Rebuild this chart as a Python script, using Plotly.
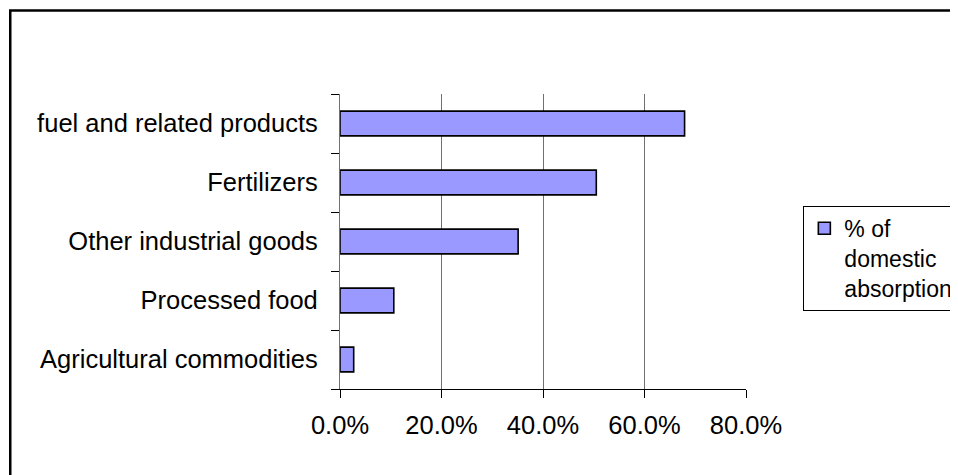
import plotly.graph_objects as go

categories = ["Agricultural commodities", "Processed food", "Other industrial goods",
              "Fertilizers", "fuel and related products"]
values = [0.027, 0.106, 0.351, 0.505, 0.679]
series_name = "% of<br>domestic<br>absorption"
x_ticks = [0, 0.2, 0.4, 0.6, 0.8]

OFF = 8  # default page body margin
W, H = 958 - OFF, 475 - OFF
L, R, T, B = 340 - OFF, 745.7 - OFF, 94.3 - OFF, 389.0 - OFF
pw, ph = R - L, B - T

def px(x):
    return (x - OFF - L) / pw

def py(y):
    return (B - (y - OFF)) / ph

fig = go.Figure()
fig.add_trace(go.Bar(
    y=categories, x=values, orientation="h", name=series_name,
    width=0.42,
    marker=dict(color="#9999FF", line=dict(color="black", width=1.6)),
    showlegend=True,
))

font = "Liberation Sans, Arial, sans-serif"
fig.update_layout(
    width=W, height=H,
    margin=dict(l=L, r=W - R, t=T, b=H - B, autoexpand=False),
    paper_bgcolor="white", plot_bgcolor="white",
    font=dict(family=font, size=25.5, color="black"),
    xaxis=dict(
        range=[0, 0.8], tickvals=x_ticks, tickformat=".1%",
        showgrid=True, gridcolor="#707070", gridwidth=1.2,
        showline=True, linecolor="black", linewidth=1.2,
        ticks="outside", ticklen=8, tickcolor="black", tickwidth=1.2,
        ticklabelstandoff=5,
        zeroline=False, fixedrange=True,
        tickfont=dict(size=25.5, family=font, color="black"),
    ),
    yaxis=dict(
        categoryorder="array", categoryarray=categories,
        range=[-0.5, 4.5],
        showgrid=False, zeroline=False,
        showline=True, linecolor="#707070", linewidth=1.2,
        ticks="outside", tickson="boundaries", ticklen=8, tickcolor="black", tickwidth=1.2,
        ticklabelstandoff=16,
        tickfont=dict(size=25.5, family=font, color="black"),
        fixedrange=True,
    ),
    legend=dict(
        x=px(803), y=py(206), xanchor="left", yanchor="top",
        bordercolor="black", borderwidth=1, bgcolor="white",
        font=dict(size=23, family=font, color="black"),
        valign="top",
        tracegroupgap=0,
    ),
    shapes=[dict(
        type="rect", xref="paper", yref="paper",
        x0=px(10.5), x1=px(1100), y0=py(11), y1=py(600),
        line=dict(color="black", width=2.5), fillcolor="rgba(0,0,0,0)", layer="below",
    )],
)

fig.write_html("out.html")
